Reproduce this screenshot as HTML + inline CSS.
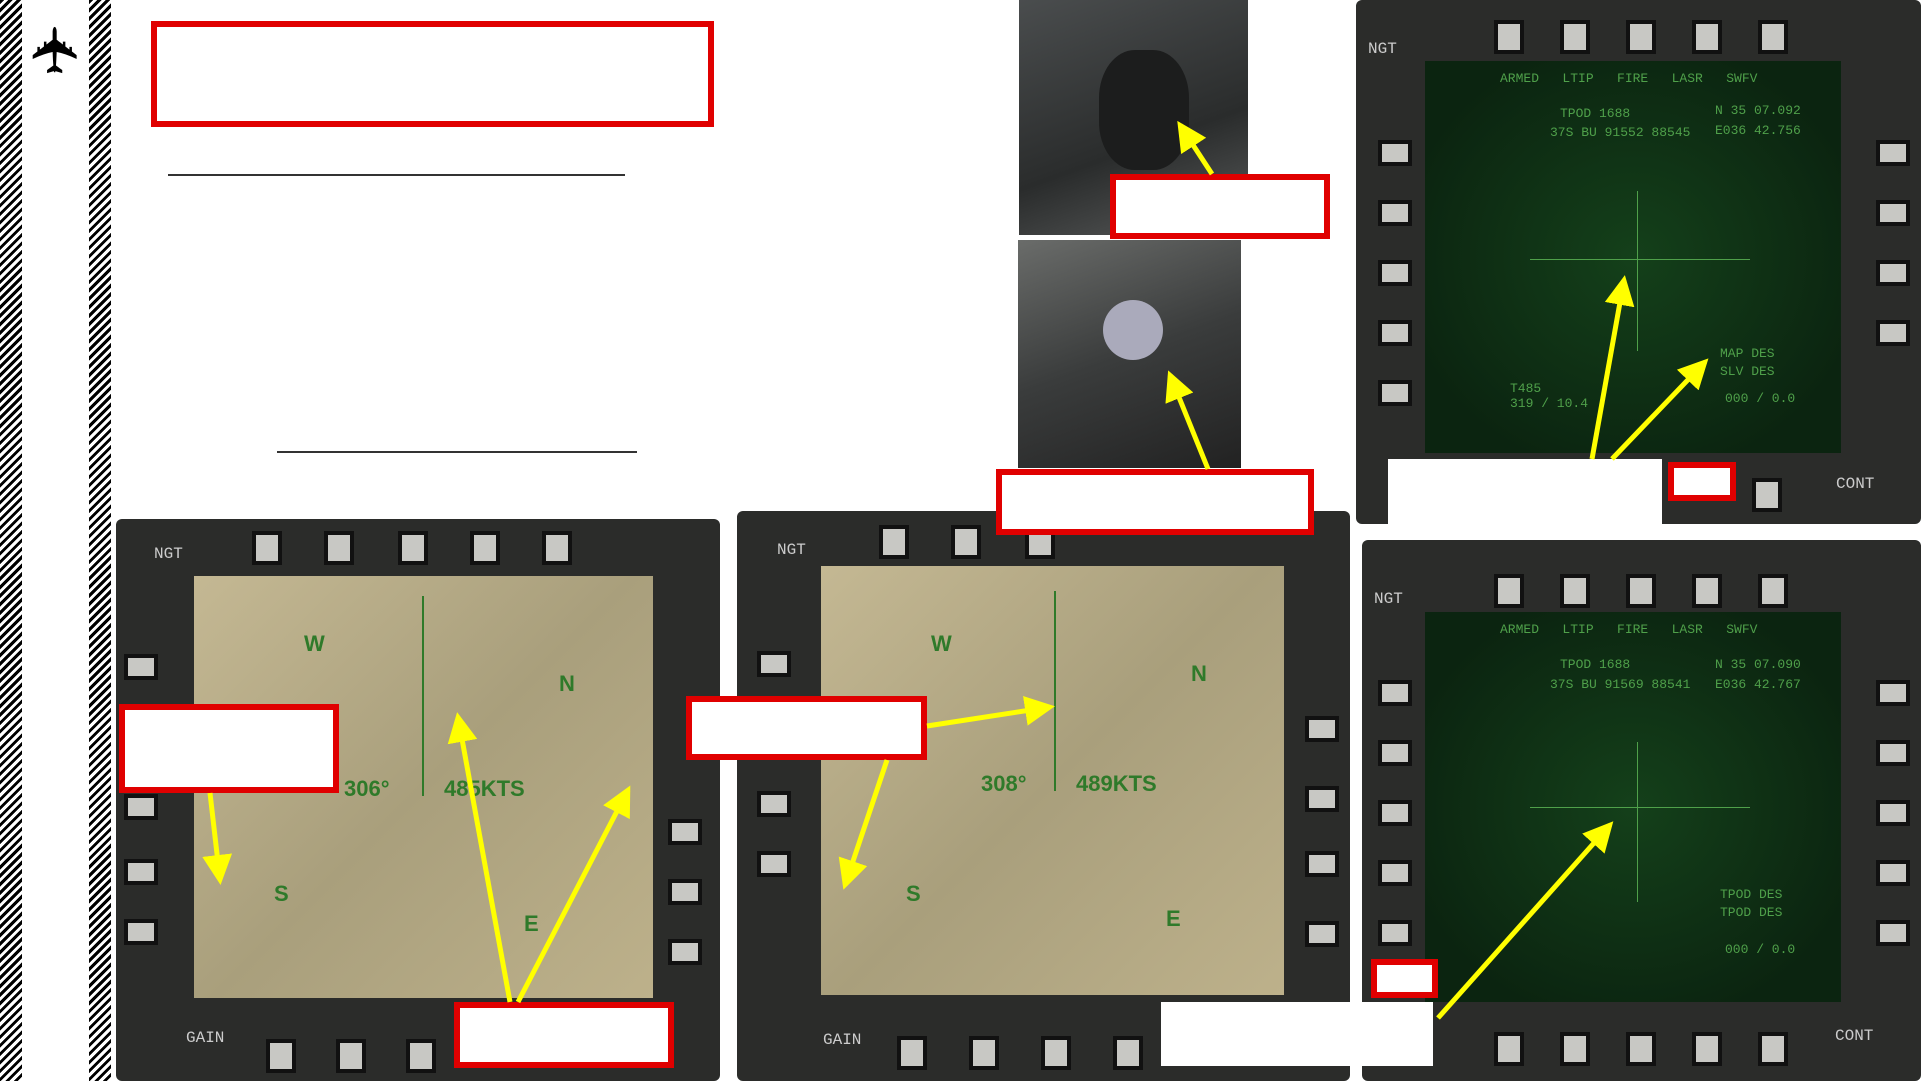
<!DOCTYPE html>
<html><head><meta charset="utf-8">
<style>
body{margin:0;width:1921px;height:1081px;background:#fff;position:relative;overflow:hidden;font-family:"Liberation Sans",sans-serif}
div{position:absolute;box-sizing:border-box}
.hatch{background:repeating-linear-gradient(135deg,#000 0 3px,#fff 3px 6px)}
.red{border:6px solid #e00000;background:#fff}
.bezel{background:#2b2c2a;border-radius:6px}
.map{background:linear-gradient(135deg,#c4b893,#a99f7c 50%,#bdb18b);}
.grn{background:radial-gradient(ellipse at center,#14401a,#0b2410 80%)}
.t{position:absolute;color:#4fa04a;font-family:"Liberation Mono",monospace;font-size:13px;white-space:nowrap}
.mt{position:absolute;color:#2f7a2a;font-size:22px;font-weight:bold;white-space:nowrap}
.b{position:absolute;background:#c8c8c4;border:4px solid #111;width:30px;height:34px}
.s{position:absolute;background:#c8c8c4;border:4px solid #111;width:34px;height:26px}
</style></head><body>
<div class="hatch" style="left:0;top:0;width:22px;height:1081px"></div>
<div class="hatch" style="left:89px;top:0;width:22px;height:1081px"></div>
<div style="left:26px;top:8px;width:60px;height:84px;font-size:64px;color:#000;text-align:center;line-height:84px;transform:rotate(-90deg)">✈</div>
<div class="red" style="left:151px;top:21px;width:563px;height:106px"></div>
<div style="left:168px;top:174px;width:457px;height:2px;background:#333"></div>
<div style="left:277px;top:451px;width:360px;height:2px;background:#333"></div>

<div class="bezel" style="left:116px;top:519px;width:604px;height:562px">
 <div class="b" style="left:136px;top:12px"></div><div class="b" style="left:208px;top:12px"></div><div class="b" style="left:282px;top:12px"></div><div class="b" style="left:354px;top:12px"></div><div class="b" style="left:426px;top:12px"></div>
 <div class="b" style="left:150px;top:520px"></div><div class="b" style="left:220px;top:520px"></div><div class="b" style="left:290px;top:520px"></div>
 <div class="s" style="left:8px;top:135px"></div><div class="s" style="left:8px;top:275px"></div><div class="s" style="left:8px;top:340px"></div><div class="s" style="left:8px;top:400px"></div>
 <div class="s" style="left:552px;top:300px"></div><div class="s" style="left:552px;top:360px"></div><div class="s" style="left:552px;top:420px"></div>
 <div class="map" style="left:78px;top:57px;width:459px;height:422px">
  <div class="mt" style="left:150px;top:200px">306°</div><div class="mt" style="left:250px;top:200px">485KTS</div>
  <div class="mt" style="left:110px;top:55px">W</div><div class="mt" style="left:365px;top:95px">N</div>
  <div class="mt" style="left:80px;top:305px">S</div><div class="mt" style="left:330px;top:335px">E</div>
  <div style="left:228px;top:20px;width:2px;height:200px;background:#2f7a2a"></div>
 </div>
 <div class="t" style="left:38px;top:26px;color:#ccc;font-size:16px">NGT</div>
 <div class="t" style="left:70px;top:510px;color:#ccc;font-size:16px">GAIN</div>
</div>
<div class="bezel" style="left:737px;top:511px;width:613px;height:570px">
 <div class="b" style="left:142px;top:14px"></div><div class="b" style="left:214px;top:14px"></div><div class="b" style="left:288px;top:14px"></div>
 <div class="b" style="left:160px;top:525px"></div><div class="b" style="left:232px;top:525px"></div><div class="b" style="left:304px;top:525px"></div><div class="b" style="left:376px;top:525px"></div>
 <div class="s" style="left:20px;top:140px"></div><div class="s" style="left:20px;top:280px"></div><div class="s" style="left:20px;top:340px"></div>
 <div class="s" style="left:568px;top:205px"></div><div class="s" style="left:568px;top:275px"></div><div class="s" style="left:568px;top:340px"></div><div class="s" style="left:568px;top:410px"></div>
 <div class="map" style="left:84px;top:55px;width:463px;height:429px">
  <div class="mt" style="left:160px;top:205px">308°</div><div class="mt" style="left:255px;top:205px">489KTS</div>
  <div class="mt" style="left:110px;top:65px">W</div><div class="mt" style="left:370px;top:95px">N</div>
  <div class="mt" style="left:85px;top:315px">S</div><div class="mt" style="left:345px;top:340px">E</div>
  <div style="left:233px;top:25px;width:2px;height:200px;background:#2f7a2a"></div>
 </div>
 <div class="t" style="left:40px;top:30px;color:#ccc;font-size:16px">NGT</div>
 <div class="t" style="left:86px;top:520px;color:#ccc;font-size:16px">GAIN</div>
</div>
<div style="left:1019px;top:0;width:229px;height:235px;background:linear-gradient(160deg,#4a4d4e,#2a2c2c 60%,#5a5c5c)">
 <div style="left:80px;top:50px;width:90px;height:120px;border-radius:40%;background:#1c1d1d"></div>
</div>
<div style="left:1018px;top:240px;width:223px;height:228px;background:linear-gradient(160deg,#6a6c6a,#3a3c3c 50%,#222)">
 <div style="left:85px;top:60px;width:60px;height:60px;border-radius:50%;background:#aab"></div>
</div>
<div class="bezel" style="left:1356px;top:0;width:565px;height:524px">
 <div class="b" style="left:138px;top:20px"></div><div class="b" style="left:204px;top:20px"></div><div class="b" style="left:270px;top:20px"></div><div class="b" style="left:336px;top:20px"></div><div class="b" style="left:402px;top:20px"></div>
 <div class="s" style="left:22px;top:140px"></div><div class="s" style="left:22px;top:200px"></div><div class="s" style="left:22px;top:260px"></div><div class="s" style="left:22px;top:320px"></div><div class="s" style="left:22px;top:380px"></div>
 <div class="s" style="left:520px;top:140px"></div><div class="s" style="left:520px;top:200px"></div><div class="s" style="left:520px;top:260px"></div><div class="s" style="left:520px;top:320px"></div>
 <div class="b" style="left:396px;top:478px"></div>
 <div class="grn" style="left:69px;top:61px;width:416px;height:392px">
  <div class="t" style="left:75px;top:10px">ARMED &nbsp;&nbsp;LTIP &nbsp;&nbsp;FIRE &nbsp;&nbsp;LASR &nbsp;&nbsp;SWFV</div>
  <div class="t" style="left:135px;top:45px">TPOD 1688</div><div class="t" style="left:290px;top:42px">N 35 07.092</div>
  <div class="t" style="left:125px;top:64px">37S BU 91552 88545</div><div class="t" style="left:290px;top:62px">E036 42.756</div>
  <div style="left:105px;top:198px;width:220px;height:1px;background:#4fa04a"></div>
  <div style="left:212px;top:130px;width:1px;height:160px;background:#4fa04a"></div>
  <div class="t" style="left:295px;top:285px">MAP DES</div><div class="t" style="left:295px;top:303px">SLV DES</div>
  <div class="t" style="left:85px;top:320px">T485<br>319 / 10.4</div><div class="t" style="left:300px;top:330px">000 / 0.0</div>
 </div>
 <div class="t" style="left:12px;top:40px;color:#ccc;font-size:16px">NGT</div>
 <div class="t" style="left:480px;top:475px;color:#ccc;font-size:16px">CONT</div>
</div>
<div class="bezel" style="left:1362px;top:540px;width:559px;height:541px">
 <div class="b" style="left:132px;top:34px"></div><div class="b" style="left:198px;top:34px"></div><div class="b" style="left:264px;top:34px"></div><div class="b" style="left:330px;top:34px"></div><div class="b" style="left:396px;top:34px"></div>
 <div class="b" style="left:132px;top:492px"></div><div class="b" style="left:198px;top:492px"></div><div class="b" style="left:264px;top:492px"></div><div class="b" style="left:330px;top:492px"></div><div class="b" style="left:396px;top:492px"></div>
 <div class="s" style="left:16px;top:140px"></div><div class="s" style="left:16px;top:200px"></div><div class="s" style="left:16px;top:260px"></div><div class="s" style="left:16px;top:320px"></div><div class="s" style="left:16px;top:380px"></div>
 <div class="s" style="left:514px;top:140px"></div><div class="s" style="left:514px;top:200px"></div><div class="s" style="left:514px;top:260px"></div><div class="s" style="left:514px;top:320px"></div><div class="s" style="left:514px;top:380px"></div>
 <div class="grn" style="left:63px;top:72px;width:416px;height:390px">
  <div class="t" style="left:75px;top:10px">ARMED &nbsp;&nbsp;LTIP &nbsp;&nbsp;FIRE &nbsp;&nbsp;LASR &nbsp;&nbsp;SWFV</div>
  <div class="t" style="left:135px;top:45px">TPOD 1688</div><div class="t" style="left:290px;top:45px">N 35 07.090</div>
  <div class="t" style="left:125px;top:65px">37S BU 91569 88541</div><div class="t" style="left:290px;top:65px">E036 42.767</div>
  <div style="left:105px;top:195px;width:220px;height:1px;background:#4fa04a"></div>
  <div style="left:212px;top:130px;width:1px;height:160px;background:#4fa04a"></div>
  <div class="t" style="left:295px;top:275px">TPOD DES</div><div class="t" style="left:295px;top:293px">TPOD DES</div>
  <div class="t" style="left:300px;top:330px">000 / 0.0</div>
 </div>
 <div class="t" style="left:12px;top:50px;color:#ccc;font-size:16px">NGT</div>
 <div class="t" style="left:473px;top:487px;color:#ccc;font-size:16px">CONT</div>
</div>

<div class="red" style="left:1110px;top:174px;width:220px;height:65px"></div>
<div class="red" style="left:996px;top:469px;width:318px;height:66px"></div>
<div style="left:1388px;top:459px;width:274px;height:65px;background:#fff"></div>
<div class="red" style="left:1668px;top:462px;width:68px;height:39px"></div>
<div class="red" style="left:119px;top:704px;width:220px;height:89px"></div>
<div class="red" style="left:686px;top:696px;width:241px;height:64px"></div>
<div class="red" style="left:454px;top:1002px;width:220px;height:66px"></div>
<div class="red" style="left:1371px;top:959px;width:67px;height:39px"></div>
<div style="left:1161px;top:1002px;width:272px;height:64px;background:#fff"></div>

<svg style="position:absolute;left:0;top:0" width="1921" height="1081">
<defs><marker id="a" markerWidth="6" markerHeight="6" refX="5" refY="3" orient="auto"><path d="M0,0L6,3L0,6z" fill="#ffff00"/></marker></defs>
<g stroke="#ffff00" stroke-width="5" fill="none" marker-end="url(#a)">
<line x1="1212" y1="174" x2="1180" y2="125"/>
<line x1="1208" y1="469" x2="1170" y2="375"/>
<line x1="1592" y1="459" x2="1624" y2="280"/>
<line x1="1612" y1="459" x2="1705" y2="362"/>
<line x1="210" y1="793" x2="220" y2="880"/>
<line x1="510" y1="1002" x2="458" y2="717"/>
<line x1="518" y1="1002" x2="628" y2="790"/>
<line x1="927" y1="726" x2="1050" y2="707"/>
<line x1="887" y1="760" x2="845" y2="885"/>
<line x1="1438" y1="1018" x2="1610" y2="825"/>
</g></svg>
</body></html>
